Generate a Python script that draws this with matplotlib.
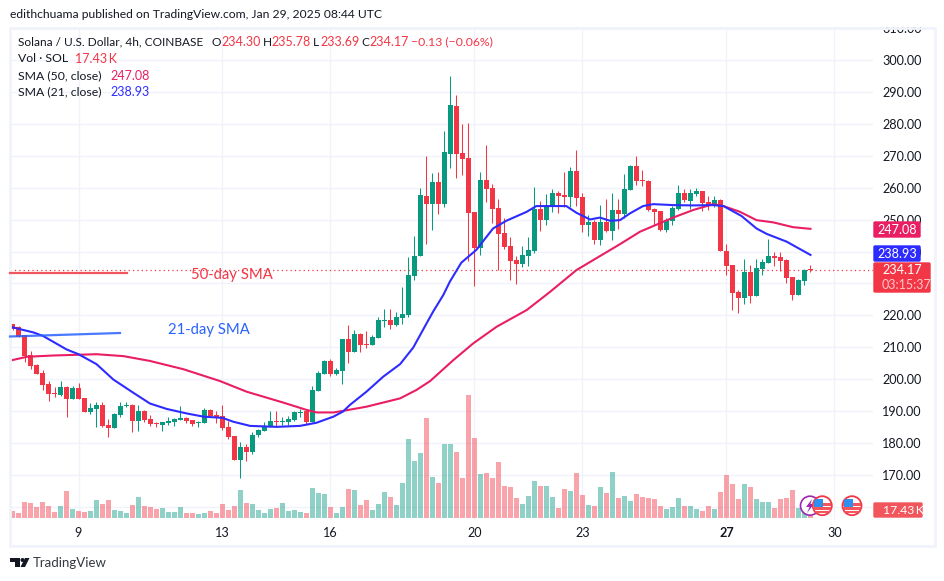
import numpy as np
import matplotlib
matplotlib.use("Agg")
import matplotlib.pyplot as plt
from matplotlib.patches import Rectangle, Circle, Polygon, FancyBboxPatch
from matplotlib.transforms import Bbox, TransformedBbox

plt.rcParams['font.family'] = ['Lato', 'DejaVu Sans']

opens = [217.3, 216.3, 214.0, 207.7, 204.5, 201.9, 198.6, 195.7, 195.2, 197.8, 193.9, 197.2, 194.2, 189.8, 190.8, 192.0, 185.8, 184.8, 188.9, 191.7,
         192.0, 187.1, 190.2, 187.5, 186.3, 185.9, 186.4, 186.8, 187.4, 188.1, 187.2, 186.5, 186.4, 190.5, 188.8, 188.5, 185.2, 182.3, 174.9, 178.9,
         177.3, 182.6, 184.0, 185.2, 187.0, 186.8, 186.8, 187.3, 189.6, 190.0, 186.8, 196.4, 201.7, 205.9, 201.7, 202.8, 212.7, 208.6, 214.2, 211.1,
         210.8, 213.0, 218.4, 218.6, 217.0, 219.2, 220.2, 232.3, 238.6, 257.3, 254.8, 261.7, 254.8, 270.5, 285.5, 270.8, 269.2, 252.3, 241.1, 262.3,
         259.8, 253.6, 245.8, 241.7, 237.3, 236.1, 238.6, 240.2, 253.3, 249.8, 253.9, 258.3, 257.6, 257.0, 265.2, 257.0, 248.3, 249.2, 243.6, 249.2,
         246.4, 253.0, 251.7, 259.2, 266.7, 262.3, 262.0, 253.3, 252.7, 246.7, 249.5, 253.3, 258.3, 255.8, 258.0, 258.9, 255.5, 254.2, 256.1, 240.2,
         235.8, 227.3, 225.5, 233.6, 226.1, 234.5, 236.4, 238.6, 238.3, 237.3, 232.0, 226.4, 230.8, 234.30]
highs = [217.3, 216.7, 214.0, 208.9, 204.7, 203.0, 199.5, 197.5, 199.5, 198.0, 198.0, 198.8, 194.2, 192.5, 192.9, 193.0, 187.5, 189.4, 192.9, 192.9,
         192.2, 192.0, 190.5, 188.9, 186.8, 186.7, 188.2, 187.9, 191.7, 188.4, 187.3, 187.1, 191.0, 190.7, 190.2, 192.0, 187.0, 182.3, 180.5, 179.8,
         183.7, 184.4, 186.8, 190.2, 190.2, 188.2, 188.6, 190.0, 190.7, 190.2, 198.0, 202.5, 206.1, 206.4, 203.6, 212.7, 217.0, 215.5, 214.5, 215.2,
         213.9, 219.5, 222.0, 222.0, 221.1, 228.9, 238.3, 244.8, 259.8, 269.8, 264.5, 264.8, 277.6, 294.8, 288.9, 279.8, 280.2, 252.3, 264.8, 273.3,
         261.1, 256.4, 250.5, 244.5, 238.6, 241.7, 244.5, 260.2, 255.8, 258.0, 259.5, 258.9, 264.8, 266.4, 271.7, 258.3, 251.4, 249.8, 254.5, 256.4,
         258.3, 256.4, 264.2, 267.0, 269.8, 265.5, 262.3, 253.6, 252.7, 250.5, 254.2, 260.8, 259.5, 259.5, 259.8, 258.9, 257.3, 257.3, 256.4, 242.3,
         235.8, 228.0, 237.7, 235.8, 237.7, 237.7, 243.9, 239.9, 239.9, 237.7, 232.0, 231.4, 234.5, 235.78]
lows = [215.5, 213.2, 205.6, 203.3, 201.7, 196.7, 193.4, 194.6, 194.8, 188.4, 193.8, 193.9, 189.9, 189.2, 185.3, 185.3, 182.1, 184.8, 188.4, 191.3,
        183.7, 183.9, 186.8, 185.5, 185.3, 184.0, 185.8, 185.6, 187.3, 186.5, 185.6, 185.3, 186.3, 188.4, 186.5, 184.2, 181.4, 174.8, 169.3, 174.5,
        176.7, 182.1, 183.9, 185.0, 185.5, 185.8, 185.9, 187.1, 188.4, 185.8, 186.6, 196.4, 201.7, 201.1, 201.3, 198.6, 205.2, 208.5, 208.6, 209.8,
        210.7, 213.0, 216.5, 215.8, 216.7, 217.3, 219.6, 231.1, 238.6, 242.3, 246.7, 251.7, 253.9, 266.1, 263.0, 263.9, 237.0, 229.2, 238.9, 255.5,
        248.9, 234.2, 240.8, 231.1, 229.8, 235.2, 235.5, 239.5, 246.4, 248.3, 252.3, 252.0, 253.9, 253.9, 254.2, 246.1, 244.8, 242.3, 242.0, 246.1,
        243.6, 247.0, 250.4, 259.2, 260.8, 260.5, 252.7, 248.3, 246.4, 246.1, 248.3, 253.0, 255.5, 253.3, 257.3, 252.7, 253.0, 253.9, 240.2, 232.7,
        221.7, 220.8, 223.6, 223.9, 226.1, 232.7, 236.3, 235.5, 233.9, 230.2, 224.8, 226.4, 229.6, 233.69]
closes = [215.9, 213.4, 207.3, 204.3, 201.7, 198.3, 195.5, 195.4, 197.5, 193.9, 197.2, 193.9, 189.9, 191.1, 191.9, 185.6, 184.8, 189.2, 191.6, 191.9,
          187.1, 190.2, 187.3, 186.1, 186.1, 186.7, 187.0, 187.7, 188.0, 187.1, 186.1, 186.7, 190.5, 188.7, 188.2, 184.8, 181.9, 174.9, 178.9, 177.3,
          182.6, 184.2, 185.5, 187.0, 186.8, 187.1, 187.5, 189.8, 189.7, 186.8, 196.7, 202.1, 205.9, 201.7, 203.0, 212.7, 208.6, 214.2, 210.8, 210.8,
          213.3, 218.6, 218.6, 217.0, 219.5, 220.5, 232.7, 238.6, 257.6, 254.8, 261.7, 254.8, 271.1, 285.8, 270.5, 268.9, 252.0, 241.1, 262.3, 259.5,
          253.3, 245.5, 241.4, 237.0, 236.1, 238.9, 240.5, 253.3, 249.8, 254.2, 258.3, 257.3, 257.0, 265.2, 256.7, 248.3, 249.2, 243.6, 249.2, 246.4,
          253.0, 251.7, 259.5, 266.7, 262.0, 262.0, 253.0, 252.3, 246.7, 249.8, 253.6, 258.3, 256.1, 258.3, 258.9, 255.2, 254.2, 256.1, 240.2, 235.5,
          227.0, 225.5, 233.6, 226.1, 234.8, 236.7, 238.6, 238.0, 237.0, 231.7, 226.4, 231.1, 234.2, 234.17]
volumes = [70, 49, 164, 154, 112, 164, 122, 60, 122, 280, 91, 70, 60, 70, 186, 144, 186, 80, 70, 49,
           133, 217, 122, 112, 91, 102, 60, 60, 112, 49, 49, 38, 49, 70, 49, 144, 80, 122, 290, 154,
           144, 80, 49, 91, 102, 154, 70, 80, 60, 49, 312, 259, 248, 112, 49, 112, 301, 290, 133, 186,
           80, 144, 270, 217, 133, 364, 826, 595, 679, 1046, 427, 364, 774, 774, 690, 416, 1288, 836, 458, 469,
           416, 584, 332, 322, 206, 144, 228, 385, 332, 332, 217, 102, 301, 280, 469, 238, 133, 122, 322, 259,
           480, 206, 228, 175, 248, 217, 206, 196, 122, 91, 112, 206, 122, 122, 91, 70, 122, 91, 270, 448,
           354, 196, 354, 322, 196, 164, 164, 102, 196, 206, 290, 102, 70, 17.43]

sma21_idx = [0, 3.5, 5.1, 9, 11, 14, 16.8, 20.1, 22.9, 25.7, 29, 31.8, 35, 36.8, 39.6, 44, 47.9, 50.7, 53.5, 55.1, 56.2, 59, 61.8, 64.6,
             66.8, 69, 70.1, 71.8, 72.9, 74.8, 77.3, 80.1, 82.3, 85.7, 87.3, 92.3, 94, 96.25, 97.9, 99.6, 101.25, 102.9, 105.1, 106.8,
             110.1, 113.5, 116.8, 118.5, 121.5, 124, 125.7, 129, 133]
sma21_val = [216.3, 214.7, 213.6, 209.4, 207.9, 204.8, 200.0, 195.9, 192.5, 190.8, 189.4, 188.4, 188.0, 186.8, 185.5, 185.2, 185.5, 186.5, 188.4, 190.0, 192.0, 196.2, 200.9, 204.8,
             210.0, 217.5, 221.2, 226.4, 230.6, 236.5, 240.5, 247.2, 249.6, 252.4, 254.2, 254.2, 252.1, 250.0, 250.6, 249.6, 249.8, 251.9, 254.2, 254.8,
             254.5, 254.4, 254.5, 254.2, 251.1, 247.2, 245.5, 243.1, 238.93]
sma50_idx = [-0.4, 2.4, 6.8, 14, 18.5, 22.9, 28.5, 34.6, 39, 45.1, 49, 50.7, 53.5, 55.1, 59, 64.6, 67.3, 69.6,
             73.5, 76.8, 80.7, 85.7, 89.6, 94, 101.25, 104.6, 110.1, 113.5, 116.8, 118.5, 121.25, 124, 126.8, 130.1, 133]
sma50_val = [205.9, 207.1, 207.5, 207.9, 207.3, 205.8, 203.2, 199.5, 196.2, 192.8, 190.5, 189.7, 189.7, 190.2, 191.5, 194.1, 196.7, 199.5,
             206.1, 211.3, 216.5, 221.7, 227.4, 234.2, 242.3, 246.2, 250.6, 253.0, 254.8, 254.2, 252.4, 249.8, 249.1, 247.6, 247.08]

day_ticks = [11, 35, 53, 77, 95, 119, 137]
day_labels = ['9', '13', '16', '20', '23', '27', '30']
price_ticks = list(range(160, 320, 10))
price_labels = [''] + ['%d.00' % p for p in price_ticks[1:]]

GREEN = '#089981'
RED = '#f23645'
PINK = '#e91e63'
BLUE = '#2e2bff'
INK = '#131722'
GRID = '#f0f3fa'

W, H = 945, 581
fig = plt.figure(figsize=(W / 100, H / 100), dpi=100, facecolor='white')

# price pane
ax = fig.add_axes([10 / W, (H - 520) / H, 863 / W, 493 / H])
ax.set_xlim(-0.417, 143.42)
ax.set_ylim(156.09, 310.16)
for s in ax.spines.values():
    s.set_visible(False)
ax.grid(True, color=GRID, lw=1)
ax.set_axisbelow(True)

x = np.arange(len(opens))
o = np.array(opens)
c = np.array(closes)
colors = [GREEN if b >= a else RED for a, b in zip(opens, closes)]

ax.vlines(x, lows, highs, colors=colors, lw=0.75, zorder=3)
heights = np.maximum(np.abs(c - o), 0.3)
ax.bar(x, heights, bottom=np.minimum(o, c), width=0.86, color=colors, lw=0, zorder=3)

ax.axhline(closes[-1], color=RED, lw=0.9, ls=(0, (1, 2.5)), zorder=2)
ax.plot(sma50_idx, sma50_val, color=PINK, lw=1.5, zorder=4)
ax.plot(sma21_idx, sma21_val, color=BLUE, lw=1.5, zorder=5)

# volume in K, shares the x axis. twinx flips ax ticks to the left so fix them after
vol = ax.twinx()
vol.set_ylim(-24, 5152)
vol.set_yticks([])
for s in vol.spines.values():
    s.set_visible(False)
vol.bar(x, volumes, width=0.86, color=colors, alpha=0.45, lw=0)

ax.yaxis.tick_right()
ax.set_yticks(price_ticks, price_labels, fontsize=9.1, color=INK)
ax.set_xticks(day_ticks, day_labels, fontsize=9.1, color=INK)
ax.tick_params(length=0)
ax.tick_params(axis='y', pad=6.5)
ax.tick_params(axis='x', pad=5)
ax.get_xticklabels()[5].set_fontweight('bold')

# 310.00 gets cut by the frame
top_label = ax.get_yticklabels()[-1]
top_label.set_clip_on(True)
top_label.set_clip_box(TransformedBbox(Bbox([[0, 0], [1, (H - 27) / H]]), fig.transFigure))

# overlay in pixels for everything that is not data
ov = fig.add_axes([0, 0, 1, 1])
ov.set_xlim(0, W)
ov.set_ylim(H, 0)
ov.axis('off')
ov.patch.set_alpha(0)
ov.add_patch(Rectangle((9.5, 27.5), 925.5, 518, fill=False, ec=GRID, lw=2))


def label(px, py, s, color=INK, size=8.7, ha='left', **kw):
    return ov.text(px, py, s, color=color, fontsize=size, ha=ha, va='center', **kw)


label(10, 15, 'edithchuama published on TradingView.com, Jan 29, 2025 08:44 UTC')

label(18, 42, 'Solana / U.S. Dollar, 4h, COINBASE', size=8.55)
for px, s in [(212, 'O'), (263, 'H'), (313, 'L'), (361, 'C')]:
    label(px, 42, s, size=8.55)
for px, s in [(221, '234.30'), (271, '235.78'), (320, '233.69'), (369, '234.17')]:
    label(px, 42, s, RED, 9)
label(411, 42, '\u22120.13 (\u22120.06%)', RED, 8.8)
label(18, 59, 'Vol \u00b7 SOL', size=8.8)
label(75, 59, '17.43\u2009K', RED, 9)
label(18, 76, 'SMA (50, close)', size=8.8)
label(110, 76, '247.08', PINK, 9)
label(18, 92, 'SMA (21, close)', size=8.8)
label(110, 92, '238.93', BLUE, 9)

# hand drawn notes on the chart
ov.plot([10, 127], [273, 273], color=RED, lw=1.6, alpha=0.85)
ov.plot([10, 120], [336.5, 333], color='#2962ff', lw=1.6, alpha=0.85)
label(191, 275, '50-day SMA', RED, 10.7)
label(168, 330, '21-day SMA', '#2962ff', 10.7)


def tag(px0, py0, px1, py1, color):
    ov.add_patch(FancyBboxPatch((px0, py0 + 1), px1 - px0 - 1, py1 - py0 - 2, boxstyle='round,pad=0,rounding_size=1',
                                fc=color, ec=color, lw=1))


tag(874, 221, 921, 238, PINK)
label(897.5, 229.5, '247.08', 'white', 9.1, ha='center')
tag(874, 245, 921, 262, BLUE)
label(897.5, 253.5, '238.93', 'white', 9.1, ha='center')
tag(874, 262, 931, 293, RED)
label(882, 270, '234.17', 'white', 9.1)
label(882, 285, '03:15:37', '#ffc6ca', 9)
tag(874, 502, 923, 518, '#f0565c')
label(883, 510.5, '17.43\u2009K', 'white', 8.8)


def flag(cx, cy):
    disc = Circle((cx, cy), 9.5, fc='white', ec=RED, lw=1.3, zorder=6)
    ov.add_patch(disc)
    for py, h in [(cy - 2.5, 2.5), (cy + 1.5, 2.5), (cy + 5, 2.5)]:
        r = Rectangle((cx - 9, py), 18, h, fc='#f0565c', lw=0, zorder=7)
        ov.add_patch(r)
        r.set_clip_path(disc)
    r = Rectangle((cx - 8, cy - 7), 9, 8, fc='#2f8fee', lw=0, zorder=8)
    ov.add_patch(r)
    r.set_clip_path(disc)


ov.add_patch(Circle((810, 505.7), 9.5, fc='white', ec='#9c27b0', lw=1.2, zorder=5))
ov.add_patch(Polygon([(812, 499), (806, 507), (809.5, 507), (807, 513), (814, 504), (810.5, 504)], fc='#9c27b0', lw=0, zorder=5))
flag(822.3, 505.7)
flag(852, 505.7)

# logo
ov.add_patch(Polygon([(10, 558), (20, 558), (20, 567), (15, 567), (15, 562), (10, 562)], fc=INK, lw=0))
ov.add_patch(Circle((22.5, 560), 2, fc=INK, lw=0))
ov.add_patch(Polygon([(25, 558), (29.5, 558), (25, 567), (20.5, 567)], fc=INK, lw=0))
label(33, 563, 'TradingView', '#333842', 9.5)

fig.savefig('out.png', dpi=100)
